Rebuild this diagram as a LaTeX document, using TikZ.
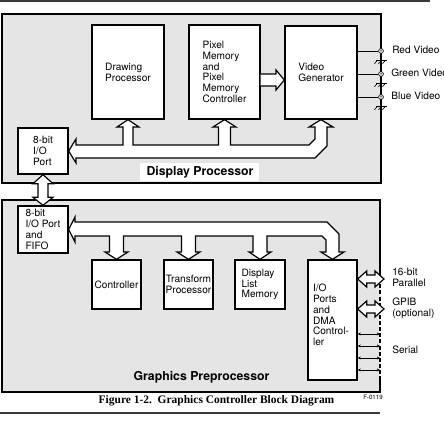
\documentclass[tikz,border=0pt]{standalone}
\usepackage{fontspec}
\setmainfont{TeX Gyre Heros}
\newfontfamily\capfont{Liberation Serif}
\usetikzlibrary{calc,arrows.meta}
\definecolor{panelgray}{HTML}{E5E5E5}
\definecolor{rulegray}{HTML}{3A3A3A}
\begin{document}
\begin{tikzpicture}[x=0.75pt,y=-0.75pt,
  sz/.style 2 args={minimum width=#1*0.75pt, minimum height=#2*0.75pt},
  panelfill/.style={fill=panelgray, draw=none, inner sep=0pt, outer sep=0pt},
  outline/.style={draw=black, line width=1.1pt, line join=miter},
  block/.style={draw=black, line width=1pt, fill=white, inner sep=0pt,
    align=left, font=\fontsize{7.6}{8.1}\selectfont},
  txt/.style={inner sep=0pt, align=left, font=\fontsize{7.6}{8.1}\selectfont},
  bus/.style={draw=black, line width=0.9pt, fill=white, line join=miter},
  paneltitle/.style={inner sep=0pt, font=\fontsize{9.2}{10}\selectfont\bfseries},
  sig/.style={line width=0.5pt},
  term/.style={circle, draw=black, line width=0.5pt, fill=white, inner sep=0pt,
    minimum size=3.6pt},
  serial/.style={line width=0.5pt,
    {Stealth[length=2.4pt,width=2.2pt]}-{Stealth[length=2.4pt,width=2.2pt]}},
  rulestyle/.style={draw=rulegray, line width=1.4pt}
]
\useasboundingbox (0,0) rectangle (444,434);

% horizontal rules above and below the figure
\coordinate (topL) at (0,1);
\coordinate (topR) at (430,1);
\coordinate (botL) at (0,413);
\coordinate (botR) at (380,413);
\draw[rulestyle] (topL) -- (topR);
\draw[rulestyle] (botL) -- (botR);

% ---------------- Display Processor ----------------
\node[panelfill, sz={379}{169}] (dpanel) at (191.5,98.5) {};
\draw[outline] (dpanel.north west) rectangle (dpanel.south east);

\node[block, sz={72}{94}] (dp) at (128,72) {Drawing\\Processor};
\node[block, sz={71}{94}] (pm) at (224.5,72)
  {Pixel\\Memory\\and\\Pixel\\Memory\\Controller};
\node[block, sz={72}{93}] (vg) at (321,72.5) {Video\\Generator};
\node[block, sz={50}{46}] (iop) at (43,151) {8-bit\\I/O\\Port};

% wide arrow from pixel memory to video generator
\draw[bus] (pm.east |- 0,74) -- (276,74) -- (276,70) -- (vg.west |- 0,80)
  -- (276,90) -- (276,86) -- (pm.east |- 0,86);

% display processor bus
\draw[bus] (iop.east) -- (76,139) -- (76,145) -- (123,145) -- (123,127)
  -- (117,127) -- (dp.south) -- (139,127) -- (133,127) -- (133,145)
  -- (218.5,145) -- (218.5,127) -- (213,127) -- (pm.south) -- (236,127)
  -- (230.5,127) -- (230.5,145) -- (309,145) -- (315,139) -- (315,127)
  -- (309,127) -- (vg.south) -- (333,127) -- (327,127) -- (327,146)
  -- (315,158) -- (76,158) -- (76,163) -- cycle;

\fill[white] (140,163) rectangle (259,181);
\node[paneltitle] (dptitle) at (200,172) {Display Processor};

% video outputs
\node[term] (rv) at (381,51) {};
\node[term] (gv) at (381,74) {};
\node[term] (bv) at (381,97) {};
\foreach \t in {rv,gv,bv}{
  \draw[sig] (vg.east |- \t) -- (\t.west);
  \fill (\t) circle (0.75);
  \draw[sig] (\t.south) -- ++(0,7) coordinate (g\t);
  \draw[sig] ($(g\t)+(-5,0)$) -- ++(11,0);
  \foreach \dx in {-4,0,4} \draw[sig] ($(g\t)+(\dx,0)$) -- ++(-2.5,3);
}
\node[txt, anchor=west] (rvl) at (392,50) {Red Video};
\node[txt, anchor=west] (gvl) at (391,73) {Green Video};
\node[txt, anchor=west] (bvl) at (391,96) {Blue Video};

% ---------------- Graphics Preprocessor ----------------
\node[panelfill, sz={378}{192}] (gpanel) at (191,296) {};
\draw[outline] ($(gpanel.north east)+(0,72)$) -- (gpanel.north east)
  -- (gpanel.north west) -- (gpanel.south west) -- (gpanel.south east)
  -- ++(0,-15);
\draw[outline, dash pattern=on 3pt off 1.6pt]
  ($(gpanel.north east)+(0,72)$) -- ($(gpanel.south east)+(0,-15)$);

\node[block, sz={50}{47}] (fifo) at (43,229.5) {8-bit\\I/O Port\\and\\FIFO};
\node[block, sz={49}{49}, align=center] (ctl) at (116.5,284.5) {Controller};
\node[block, sz={49}{49}, align=center] (tp) at (188.5,284.5) {Transform\\Processor};
\node[block, sz={50}{49}] (dl) at (260,284.5) {Display\\List\\Memory};
\node[block, sz={49}{120}] (io) at (332.5,320) {};
\node[txt] (iotxt) at (331,315) {I/O\\Ports\\and\\DMA\\Control-\\ler};

% link between the two I/O ports
\draw[bus] (iop.south) -- ($(iop.south)+(10,9)$) -- ($(iop.south)+(5,9)$)
  -- ($(fifo.north)+(5,-8)$) -- ($(fifo.north)+(10,-8)$) -- (fifo.north)
  -- ($(fifo.north)+(-10,-8)$) -- ($(fifo.north)+(-5,-8)$)
  -- ($(iop.south)+(-5,9)$) -- ($(iop.south)+(-10,9)$) -- cycle;

% graphics preprocessor bus
\draw[bus] (fifo.east) -- (75,217) -- (75,222) -- (327,222) -- (339,234)
  -- (339,252) -- (344,252) -- (io.north) -- (321,252) -- (326,252)
  -- (326,240) -- (322,236) -- (267,236) -- (267,252) -- (271,252)
  -- (dl.north) -- (249,252) -- (253,252) -- (253,236) -- (195.5,236)
  -- (195.5,252) -- (200,252) -- (tp.north) -- (177,252) -- (181.5,252)
  -- (181.5,236) -- (123.5,236) -- (123.5,252) -- (128,252) -- (ctl.north)
  -- (105,252) -- (109.5,252) -- (109.5,236) -- (75,236) -- (75,242) -- cycle;

% external interfaces of the I/O ports
\coordinate (par) at (384,279);
\coordinate (gpib) at (384,309);
\foreach \p in {par,gpib}{
  \draw[bus] (io.east |- \p) -- ($(io.east |- \p)+(9,-8)$) -- ($(io.east |- \p)+(9,-4)$)
    -- ($(\p)+(-9,-4)$) -- ($(\p)+(-9,-8)$) -- (\p) -- ($(\p)+(-9,8)$)
    -- ($(\p)+(-9,4)$) -- ($(io.east |- \p)+(9,4)$) -- ($(io.east |- \p)+(9,8)$) -- cycle;
}
\foreach \yy/\nm in {334/s1,346/s2,358/s3,370/s4}{
  \coordinate (\nm) at (380,\yy);
  \draw[serial] (io.east |- \nm) -- (\nm);
}
\node[txt, anchor=west] (parl) at (392,277) {16-bit\\Parallel};
\node[txt, anchor=west] (gpibl) at (392,308) {GPIB\\(optional)};
\node[txt, anchor=west] (serl) at (392,350) {Serial};

\node[paneltitle] (gptitle) at (201.5,377) {Graphics Preprocessor};

% caption
\node[inner sep=0pt, font=\capfont\fontsize{8.6}{9}\selectfont\bfseries] (cap)
  at (216.5,401) {Figure 1-2.\ \ Graphics Controller Block Diagram};
\node[inner sep=0pt, font=\fontsize{4.6}{5}\selectfont] (fig) at (373,397.5) {F-0119};
\end{tikzpicture}
\end{document}
